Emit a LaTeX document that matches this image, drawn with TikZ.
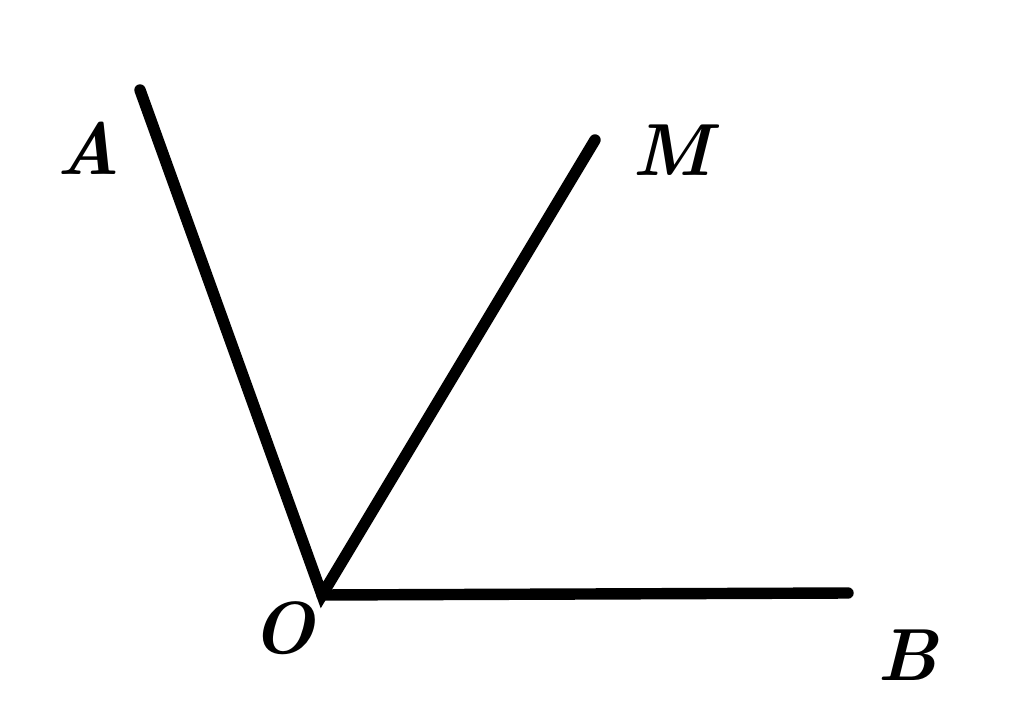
\documentclass[tikz,border=0pt]{standalone}
\usepackage{tikz}

\begin{document}
\begin{tikzpicture}[x=0.02cm,y=0.02cm]
    \useasboundingbox (0,0) rectangle (1024,717);
    \tikzset{ray/.style={line width=6.5pt,line cap=round},
             lab/.style={font=\fontsize{42}{48}\selectfont\bfseries\itshape}}

    \node (O) at (322,122) [coordinate] {};
    \node (A) at (140,627) [coordinate] {};
    \node (M) at (595,577) [coordinate] {};
    \node (B) at (848,124) [coordinate] {};

    \node (lA) at (88,569) [lab] {A};
    \node (lM) at (672,567) [lab] {M};
    \node (lO) at (283,89) [lab] {O};
    \node (lB) at (908,62) [lab] {B};

    \draw[ray] (A) to (O) to (M);
    \draw[ray] (O) to (B);
\end{tikzpicture}
\end{document}
